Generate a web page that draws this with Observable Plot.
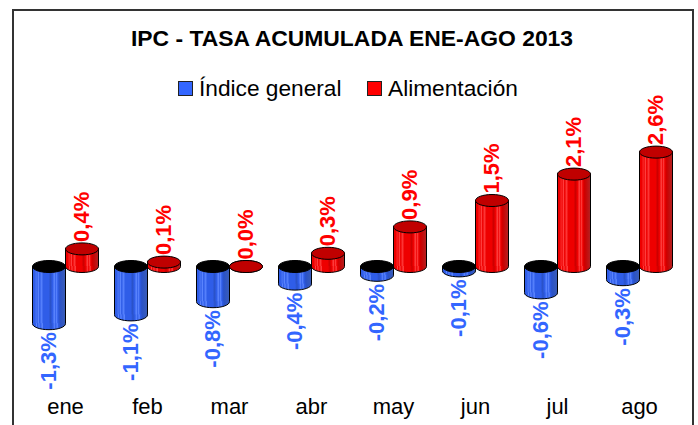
<!DOCTYPE html>
<html><head><meta charset="utf-8">
<script src="https://cdn.jsdelivr.net/npm/d3@7"></script>
<script src="https://cdn.jsdelivr.net/npm/@observablehq/plot@0.6"></script>
<style>
html,body{margin:0;padding:0;background:#fff;overflow:hidden}
body{width:698px;height:425px;position:relative;font-family:"Liberation Sans",Arial,sans-serif}
#frame{position:absolute;left:12px;top:9px;width:678px;height:420px;border:2px solid #333;border-bottom:none}
#title{position:absolute;left:0;width:704px;top:25px;text-align:center;font-weight:bold;font-size:22.9px;line-height:26px;color:#000;white-space:nowrap}
#legend{position:absolute;left:178px;top:76px;font-size:22.7px;color:#000;line-height:24px;white-space:nowrap}
#legend i{position:absolute;top:5px;width:13px;height:13px;border:1px solid #222}
#legend span{position:absolute;top:0}
#chart{position:absolute;left:0;top:92px}
</style></head><body>
<div id="frame"></div>
<div id="title">IPC - TASA ACUMULADA ENE-AGO 2013</div>
<div id="legend"></div>
<div id="chart"></div>
<script>
const months = ["ene","feb","mar","abr","may","jun","jul","ago"];
const seriesNames = ["Índice general","Alimentación"];
const indiceGeneral = [-1.3,-1.1,-0.8,-0.4,-0.2,-0.1,-0.6,-0.3];
const alimentacion = [0.4,0.1,0.0,0.3,0.9,1.5,2.1,2.6];
const seriesColors = ["#3366FF","#FF0000"];
const capColors = ["#000000","#C00000"];
const gradientIds = ["url(#cylBlue)","url(#cylRed)"];

const rows = months.flatMap((m,i)=>[
  {month:m, series:seriesNames[0], value:indiceGeneral[i]},
  {month:m, series:seriesNames[1], value:alimentacion[i]}
]);
const fmt = v => v.toFixed(1).replace(".",",")+"%";
const colorOf = d => seriesColors[seriesNames.indexOf(d.series)];
const capOf = d => capColors[seriesNames.indexOf(d.series)];
const gradOf = d => gradientIds[seriesNames.indexOf(d.series)];

const ellipse = {draw(ctx,size){
  const r=Math.sqrt(size/Math.PI), a=r, b=r*6/16.5, k=0.5523;
  ctx.moveTo(a,0);
  ctx.bezierCurveTo(a,k*b,k*a,b,0,b);
  ctx.bezierCurveTo(-k*a,b,-a,k*b,-a,0);
  ctx.bezierCurveTo(-a,-k*b,-k*a,-b,0,-b);
  ctx.bezierCurveTo(k*a,-b,a,-k*b,a,0);
  ctx.closePath();
}};

function stripes(id,base,light,dark,deep){
  const g=d3.create("svg:linearGradient").attr("id",id);
  const pat=[[0,deep],[.03,base],[.1,base],[.12,light],[.15,base],[.2,light],[.23,base],[.3,light],[.33,base],
             [.5,base],[.56,dark],[.62,base],[.68,light],[.7,base],[.75,light],[.78,base],[.84,dark],[1,deep]];
  for(const [o,c] of pat) g.append("stop").attr("offset",o).attr("stop-color",c);
  return g.node();
}
const defs = () => {
  const s=d3.create("svg:defs");
  s.append(()=>stripes("cylBlue","#2F5DE8","#5C86FF","#2A52C8","#3A5DB8"));
  s.append(()=>stripes("cylRed","#EE0000","#FF4040","#CC0000","#B52020"));
  return s.node();
};

const chart = Plot.plot({
  width:698, height:333,
  marginLeft:31, marginRight:26, marginTop:42, marginBottom:71,
  style:{background:"transparent",fontFamily:"'Liberation Sans',Arial,sans-serif"},
  fx:{domain:months,padding:0.198,axis:null,label:null},
  x:{domain:seriesNames,padding:0,axis:null,label:null},
  y:{domain:[-2,3],axis:null,label:null},
  marks:[
    defs,
    Plot.dot(rows,{fx:"month",x:"series",y:d=>Math.min(d.value,0),r:16.5,symbol:ellipse,fill:gradOf,stroke:"#000",strokeWidth:1}),
    Plot.barY(rows.filter(d=>d.value!==0),{fx:"month",x:"series",y:"value",fill:gradOf}),
    Plot.ruleX(rows.filter(d=>d.value!==0),{fx:"month",x:"series",y1:0,y2:"value",stroke:"#000",strokeWidth:1,dx:-16.5}),
    Plot.ruleX(rows.filter(d=>d.value!==0),{fx:"month",x:"series",y1:0,y2:"value",stroke:"#000",strokeWidth:1,dx:16.5}),
    Plot.dot(rows,{fx:"month",x:"series",y:d=>Math.max(d.value,0),r:16.5,symbol:ellipse,fill:capOf,stroke:"#000",strokeWidth:1}),
    Plot.text(rows.filter(d=>d.value>=0),{fx:"month",x:"series",y:"value",text:d=>fmt(d.value),rotate:-90,textAnchor:"start",lineAnchor:"middle",dy:-7,fontSize:22,fontWeight:"bold",fill:colorOf}),
    Plot.text(rows.filter(d=>d.value<0),{fx:"month",x:"series",y:"value",text:d=>fmt(d.value),rotate:-90,textAnchor:"end",lineAnchor:"middle",dy:8.5,fontSize:22,fontWeight:"bold",fill:colorOf}),
    Plot.text(months,{fx:d=>d,text:d=>d,frameAnchor:"bottom",lineAnchor:"middle",dy:52,fontSize:22,fill:"#000"})
  ]
});
document.getElementById("chart").append(chart);

const lg=d3.select("#legend");
[[0,21],[1,210]].forEach(([i,tx])=>{
  lg.append("i").style("left",(tx-21)+"px").style("background",seriesColors[i]);
  lg.append("span").style("left",tx+"px").text(seriesNames[i]);
});
</script>
</body></html>
